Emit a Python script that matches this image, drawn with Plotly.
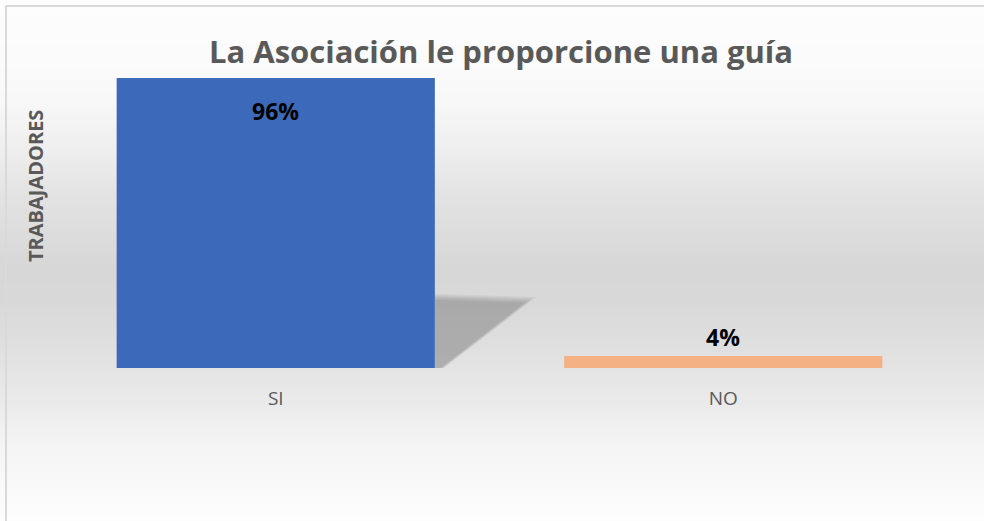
import plotly.graph_objects as go

categories = ["SI", "NO"]
values = [0.96, 0.04]
labels = ["96%", "4%"]
bar_colors = ["#3C69B9", "#F4B183"]

title_text = "La Asociación le proporcione una guía"
y_title = "TRABAJADORES"

W, H = 984, 521
L, R, T, B = 52, 37, 66, 153
PW, PH = W - L - R, H - T - B


def px(xp):
    return (xp - L) / PW


def py(yp):
    return (H - B - yp) / PH


# background vertical gradient profile (pixel y, grey level)
grad = [(0, 253), (60, 251), (100, 248), (150, 238), (200, 226), (265, 215),
        (300, 216), (350, 224), (400, 234), (450, 245), (500, 251), (521, 253)]


def level(y):
    for (y0, c0), (y1, c1) in zip(grad[:-1], grad[1:]):
        if y0 <= y <= y1:
            return c0 + (c1 - c0) * (y - y0) / (y1 - y0)
    return grad[-1][1]


shapes = []
step = 4
for yy in range(0, H, step):
    g = int(round(level(yy + step / 2)))
    shapes.append(dict(type="rect", xref="paper", yref="paper", layer="below",
                       x0=px(-5), x1=px(W + 5), y0=py(yy + step + 0.5), y1=py(yy),
                       fillcolor=f"rgb({g},{g},{g})", line=dict(width=0)))

# outer border
shapes.append(dict(type="rect", xref="paper", yref="paper", layer="above",
                   x0=px(6), x1=px(W + 10), y0=py(H + 10), y1=py(6),
                   fillcolor="rgba(0,0,0,0)", line=dict(color="#d9d9d9", width=2)))

# soft shadow behind first bar
for k in range(6):
    d = 12 - 2.4 * k
    path = (f"M {px(435)},{py(294 + d * 0.5)} L {px(536 - d)},{py(297 + d * 0.5)} "
            f"L {px(444 - d * 0.3)},{py(368)} L {px(435)},{py(368)} Z")
    shapes.append(dict(type="path", xref="paper", yref="paper", layer="below",
                       path=path, fillcolor="rgba(110,110,110,0.09)", line=dict(width=0)))

fig = go.Figure()
fig.add_trace(go.Bar(x=categories, y=values, marker=dict(color=bar_colors, line=dict(width=0)),
                     hoverinfo="skip", showlegend=False))

annotations = [
    dict(x=categories[0], y=values[0], text=f"<b>{labels[0]}</b>", showarrow=False,
         yanchor="top", yshift=-15, font=dict(family="Open Sans", size=23, color="#000000")),
    dict(x=categories[1], y=values[1], text=f"<b>{labels[1]}</b>", showarrow=False,
         yanchor="bottom", yshift=1, font=dict(family="Open Sans", size=23, color="#000000")),
    dict(xref="paper", yref="paper", x=px(35), y=py(186), text=f"<b>{y_title}</b>",
         textangle=-90, showarrow=False, xanchor="center", yanchor="middle",
         font=dict(family="Open Sans", size=20, color="#595959")),
]

fig.update_layout(
    width=W, height=H,
    margin=dict(l=L, r=R, t=T, b=B),
    paper_bgcolor="#ffffff",
    plot_bgcolor="rgba(0,0,0,0)",
    bargap=0.289,
    title=dict(text=f"<b>{title_text}</b>", xref="paper", x=px(501), xanchor="center",
               yref="container", y=1 - 52 / H, yanchor="middle",
               font=dict(family="Open Sans", size=31, color="#595959")),
    xaxis=dict(showgrid=False, zeroline=False, showline=False, ticks="outside", ticklen=13,
               tickcolor="rgba(0,0,0,0)", tickfont=dict(family="Open Sans", size=19, color="#595959")),
    yaxis=dict(range=[0, 1], showgrid=False, zeroline=False, showline=False,
               showticklabels=False),
    shapes=shapes,
    annotations=annotations,
)

fig.write_html("out.html", config={"displayModeBar": False},
               post_script="document.body.style.margin='0';document.body.style.overflow='hidden';")
